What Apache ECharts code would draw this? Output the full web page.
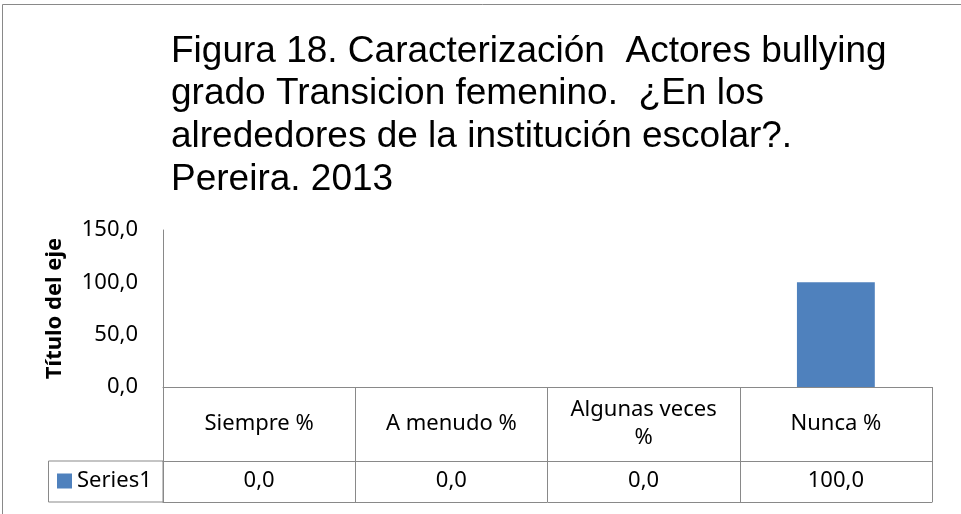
<!DOCTYPE html>
<html>
<head>
<meta charset="utf-8">
<script src="https://cdn.jsdelivr.net/npm/echarts@6/dist/echarts.min.js"></script>
<style>
  html, body { margin: 0; padding: 0; background: #fff; }
  #main { width: 961px; height: 514px; }
</style>
</head>
<body>
<div id="main"></div>
<script>
// chart data
const categories = ['Siempre %', 'A menudo %', 'Algunas veces\n%', 'Nunca %'];
const series1 = [0.0, 0.0, 0.0, 100.0];
const yTicks = { min: 0, max: 150, interval: 50 };
const titleText = 'Figura 18. Caracterización  Actores bullying\ngrado Transicion femenino.  ¿En los\nalrededores de la institución escolar?.\nPereira. 2013';

const lineColor = '#898989';
const font = 'Noto Sans';

// 0.0 -> "0,0"
const fmt = v => Number(v).toFixed(1).replace('.', ',');

const chart = echarts.init(document.getElementById('main'));

const option = {
  animation: false,
  title: {
    text: titleText,
    left: 171,
    top: 30,
    padding: 0,
    textStyle: {
      fontFamily: 'Liberation Sans',
      fontSize: 37,
      fontWeight: 'normal',
      lineHeight: 42.7,
      color: '#000'
    }
  },
  legend: {
    data: ['Series1'],
    left: 57,
    top: 470,
    padding: 0,
    icon: 'rect',
    itemWidth: 15,
    itemHeight: 15,
    textStyle: { fontFamily: font, fontSize: 22, color: '#000', lineHeight: 22 }
  },
  grid: { left: 163, right: 29, top: 230, bottom: 127 },
  xAxis: [
    {
      // header row of the data table
      type: 'category',
      data: categories,
      position: 'bottom',
      axisLine: { show: true, lineStyle: { color: lineColor } },
      axisTick: { show: true, length: 115, lineStyle: { color: lineColor } },
      axisLabel: {
        interval: 0,
        margin: 37,
        verticalAlign: 'middle',
        lineHeight: 28,
        fontFamily: font,
        fontSize: 22,
        color: '#000'
      }
    },
    {
      // values row
      type: 'category',
      data: categories,
      position: 'bottom',
      offset: 74,
      axisLine: { show: true, lineStyle: { color: lineColor } },
      axisTick: { show: false },
      axisLabel: {
        interval: 0,
        margin: 20,
        verticalAlign: 'middle',
        fontFamily: font,
        fontSize: 22,
        color: '#000',
        formatter: (v, i) => fmt(series1[i])
      }
    },
    {
      // bottom edge of the table
      type: 'category',
      data: categories,
      position: 'bottom',
      offset: 115,
      axisLine: { show: true, lineStyle: { color: lineColor } },
      axisTick: { show: false },
      axisLabel: { show: false }
    }
  ],
  yAxis: {
    type: 'value',
    min: yTicks.min,
    max: yTicks.max,
    interval: yTicks.interval,
    name: 'Título del eje',
    nameLocation: 'middle',
    nameRotate: 90,
    nameGap: 97,
    nameTextStyle: { fontFamily: font, fontSize: 22, fontWeight: 'bold', color: '#000' },
    axisLine: { show: true, lineStyle: { color: lineColor } },
    axisTick: { show: false },
    splitLine: { show: false },
    axisLabel: {
      margin: 25,
      fontFamily: font,
      fontSize: 22,
      color: '#000',
      formatter: v => fmt(v)
    }
  },
  series: [
    {
      name: 'Series1',
      type: 'bar',
      xAxisIndex: 0,
      data: series1,
      barWidth: '40.5%',
      itemStyle: { color: '#4F81BD' }
    }
  ],
  graphic: [
    {
      // outer chart border
      type: 'rect',
      shape: { x: 2.5, y: 4.5, width: 1100, height: 700 },
      style: { fill: 'none', stroke: lineColor, lineWidth: 1 },
      silent: true
    },
    {
      // legend cell of the data table
      type: 'rect',
      shape: { x: 48.5, y: 461, width: 114.5, height: 41 },
      style: { fill: 'none', stroke: lineColor, lineWidth: 1 },
      silent: true
    }
  ]
};

chart.setOption(option);
</script>
</body>
</html>
